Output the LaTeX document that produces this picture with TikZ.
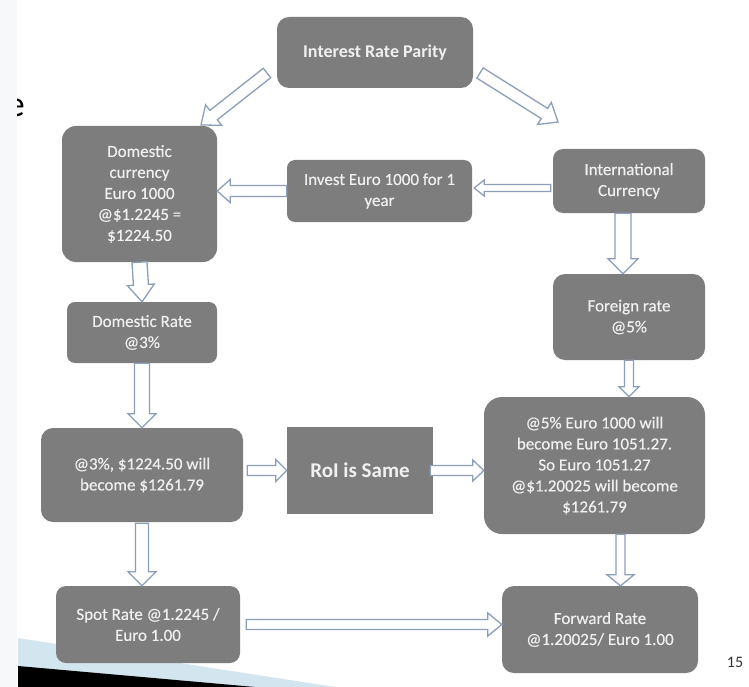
\documentclass[tikz,border=0pt]{standalone}
\usepackage{fontspec}
\setmainfont{Carlito}
\newfontfamily\boxfont[FakeBold=0.35]{Carlito}
\usetikzlibrary{calc}
\definecolor{boxc}{HTML}{7D7D7D}
\definecolor{txtc}{HTML}{F0F0F0}
\definecolor{arrc}{HTML}{8C9EB8}
\definecolor{swblue}{HTML}{D3E5EE}
\definecolor{stripc}{HTML}{F7F8F9}
\tikzset{
  box/.style={fill=boxc, text=txtc, align=center, rounded corners=#1, inner sep=0pt,
    font=\boxfont\fontsize{17}{21}\selectfont},
  barrowstyle/.style={draw=arrc, fill=white, line width=1.3pt, line join=miter},
}
% #1 start, #2 tip, #3 half shaft, #4 half head, #5 head length
\newcommand\blockarrow[5]{%
  \path[barrowstyle] let \p1=(#1), \p2=(#2),
    \n1={atan2(\y2-\y1,\x2-\x1)}, \n2={veclen(\x2-\x1,\y2-\y1)} in
    ($(\p1)+(\n1+90:#3)$)
    -- ($(\p1)+(\n1:{\n2-#5})+(\n1+90:#3)$)
    -- ($(\p1)+(\n1:{\n2-#5})+(\n1+90:#4)$)
    -- (\p2)
    -- ($(\p1)+(\n1:{\n2-#5})+(\n1-90:#4)$)
    -- ($(\p1)+(\n1:{\n2-#5})+(\n1-90:#3)$)
    -- ($(\p1)+(\n1-90:#3)$) -- cycle;}
\begin{document}
\begin{tikzpicture}[x=1pt,y=-1pt]
\useasboundingbox (0,0) rectangle (749,687);
\fill[white] (0,0) rectangle (749,687);
% slide background remnants
\node[anchor=base east, font=\fontsize{36}{40}\selectfont, text=black, inner sep=0pt] (ltr) at (25,117) {e};
\fill[stripc] (0,0) rectangle (17,687);
\fill[swblue] (18,638) -- (335,687) -- (18,687) -- cycle;
\fill[black] (18,666) -- (255,687) -- (18,687) -- cycle;

% boxes
\node[box=12pt, minimum width=196pt, minimum height=71pt, font=\bfseries\fontsize{18}{22}\selectfont] (irp) at (375,52.5) {Interest Rate Parity};
\node[box=14pt, minimum width=155pt, minimum height=136pt] (dom) at (139.5,194) {Domestic\\currency\\Euro 1000\\@\$1.2245 =\\\$1224.50};
\node[box=8pt, minimum width=185pt, minimum height=62pt] (inv) at (379.5,191) {Invest Euro 1000 for 1\\year};
\node[box=10pt, minimum width=152pt, minimum height=64pt] (intl) at (629,181) {International\\Currency};
\node[box=8pt, minimum width=150pt, minimum height=61pt] (drate) at (142,332.5) {Domestic Rate\\@3\%};
\node[box=12pt, minimum width=152pt, minimum height=86pt] (frate) at (629,317) {Foreign rate\\@5\%};
\node[box=12pt, minimum width=202pt, minimum height=94pt] (p3) at (142,475) {@3\%, \$1224.50 will\\become \$1261.79};
\node[box=0pt, minimum width=146pt, minimum height=87pt, font=\bfseries\fontsize{21}{25}\selectfont] (roi) at (360,470.5) {RoI is Same};
\node[box=18pt, minimum width=221pt, minimum height=137pt] (p5) at (594.5,465.5) {@5\% Euro 1000 will\\become Euro 1051.27.\\So Euro 1051.27\\@\$1.20025 will become\\\$1261.79};
\node[box=10pt, minimum width=184pt, minimum height=77pt] (spot) at (148,624.5) {Spot Rate @1.2245 /\\Euro 1.00};
\node[box=12pt, minimum width=196pt, minimum height=87pt] (fwd) at (600,629.5) {Forward Rate\\@1.20025/ Euro 1.00};
\node[font=\fontsize{16}{18}\selectfont, text=black!80, inner sep=0pt] (pg) at (735,662) {15};

% connector end points
\coordinate (dlA) at (267,73);
\coordinate (dlB) at (201,125);
\coordinate (drA) at (480,73);
\coordinate (drB) at (558,122);
\coordinate (ia) at ([xshift=-2pt,yshift=-7pt]intl.west);
\coordinate (ib) at ([xshift=2pt]ia -| inv.east);
\coordinate (va) at ([xshift=-6pt]intl.south);
\coordinate (fa) at (frate.south);
\coordinate (pa) at ([xshift=26pt]p5.south);
\coordinate (sa) at ([yshift=-1pt]p3.south);
\coordinate (ra) at ([xshift=4pt]roi.west -| p3.east);
\coordinate (rb) at ([xshift=-3pt]roi.east);
\coordinate (ta) at ([xshift=6pt]spot.east);

% block arrows
\blockarrow{dlA}{dlB}{6pt}{13pt}{16pt}
\blockarrow{drA}{drB}{6pt}{13pt}{16pt}
\blockarrow{ia}{ib}{3.5pt}{8pt}{10pt}
\blockarrow{inv.west}{inv.west -| dom.east}{5.5pt}{11.5pt}{13pt}
\blockarrow{dom.south}{drate.north}{7.5pt}{13.5pt}{17pt}
\blockarrow{va}{va |- frate.north}{8pt}{15pt}{15pt}
\blockarrow{drate.south}{p3.north}{7.5pt}{14pt}{14pt}
\blockarrow{fa}{fa |- p5.north}{4.5pt}{10pt}{10pt}
\blockarrow{ra}{roi.west}{5pt}{11pt}{11pt}
\blockarrow{rb}{rb -| p5.west}{5pt}{10.5pt}{11pt}
\blockarrow{sa}{sa |- spot.north}{6.5pt}{14pt}{14pt}
\blockarrow{pa}{pa |- fwd.north}{4.5pt}{13.5pt}{11pt}
\blockarrow{ta}{ta -| fwd.west}{5pt}{11.5pt}{14pt}
\end{tikzpicture}
\end{document}
